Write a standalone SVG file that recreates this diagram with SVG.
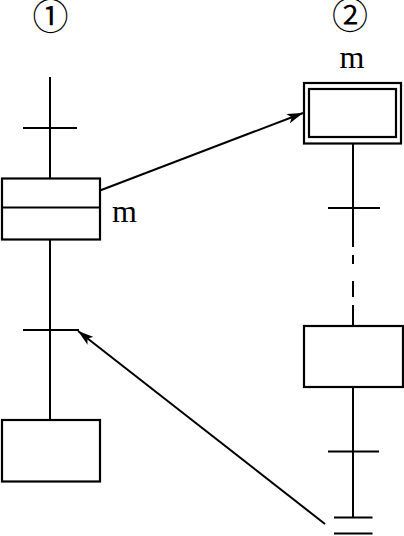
<svg xmlns="http://www.w3.org/2000/svg" width="404" height="536" viewBox="0 0 404 536">
<style>
.ln{stroke:#000;stroke-width:2;fill:none}
.bx{stroke:#000;stroke-width:2.2;fill:#fff}
.lbl{font-family:"Liberation Serif","Times New Roman",serif;font-size:32px;fill:#000}
.num{font-family:"Noto Sans CJK SC","Noto Sans CJK JP",sans-serif;font-size:36px;fill:#000}
</style>
<defs>
<marker id="ah" viewBox="0 0 16 10" refX="16" refY="5" markerWidth="16" markerHeight="10" markerUnits="userSpaceOnUse" orient="auto">
<path d="M0,0 L16,5 L0,10 L4,5 z" fill="#000"/>
</marker>
</defs>
<rect width="404" height="536" fill="#fff"/>
<text class="num" x="50.5" y="29.5" text-anchor="middle">①</text>
<text class="num" x="350" y="28.5" text-anchor="middle">②</text>
<g id="connectors">
<line class="ln" x1="50" y1="77" x2="50" y2="178"/>
<line class="ln" x1="50" y1="239" x2="50" y2="420"/>
<line class="ln" x1="353" y1="143" x2="353" y2="247"/>
<line class="ln" x1="353" y1="255" x2="353" y2="264"/>
<line class="ln" x1="353" y1="281" x2="353" y2="297"/>
<line class="ln" x1="353" y1="305" x2="353" y2="326"/>
<line class="ln" x1="353" y1="387" x2="353" y2="517.5"/>
<line class="ln" x1="100" y1="190.5" x2="303" y2="113" marker-end="url(#ah)"/>
<line class="ln" x1="325" y1="524" x2="78" y2="331" marker-end="url(#ah)"/>
</g>
<g id="t1"><line class="ln" x1="23" y1="128" x2="77" y2="128"/></g>
<g id="t2"><line class="ln" x1="23" y1="330" x2="79" y2="330"/></g>
<g id="t3"><line class="ln" x1="328" y1="208" x2="380" y2="208"/></g>
<g id="t4"><line class="ln" x1="328" y1="451.5" x2="379" y2="451.5"/></g>
<g id="end"><line class="ln" x1="334" y1="517.5" x2="372.5" y2="517.5"/><line class="ln" x1="334" y1="533.5" x2="372.5" y2="533.5"/></g>
<g id="s1">
<rect class="bx" x="2" y="178.5" width="98" height="61"/>
<line class="ln" x1="2" y1="207.5" x2="100" y2="207.5"/>
<text class="lbl" x="112" y="222">m</text>
</g>
<g id="s2">
<rect class="bx" x="2" y="420" width="98" height="61.5"/>
</g>
<g id="s3">
<rect class="bx" x="304" y="83" width="97" height="60.5"/>
<rect class="bx" x="309" y="89" width="87" height="48"/>
<text class="lbl" x="352" y="68" text-anchor="middle">m</text>
</g>
<g id="s4">
<rect class="bx" x="304" y="326" width="99" height="61"/>
</g>
</svg>
